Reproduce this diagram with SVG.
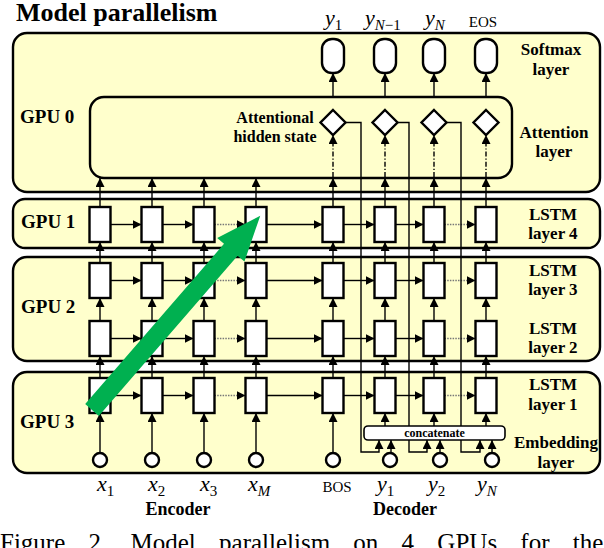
<svg xmlns="http://www.w3.org/2000/svg" width="604" height="548" viewBox="0 0 604 548" font-family="'Liberation Serif', 'DejaVu Serif', serif">
<defs>
<marker id="ah" viewBox="0 0 10 10" refX="10" refY="5" markerWidth="9" markerHeight="9" markerUnits="userSpaceOnUse" orient="auto"><path d="M0,0 L10,5 L0,10 z" fill="#000"/></marker>
<style>
.panel{fill:#ffffcc;stroke:#000;stroke-width:2.4}
.box{fill:#fff;stroke:#000;stroke-width:2.4}
.ln{stroke:#000;stroke-width:1.4;fill:none}
.ar{marker-end:url(#ah)}
.dot{stroke:#777;stroke-dasharray:1.5 1.2}
.dd{stroke-dasharray:5 2 1.2 2}
text{font-family:'Liberation Serif','DejaVu Serif',serif;fill:#000}
.b{font-weight:bold}
.m{font-style:italic}
.lab{font-size:17px;text-anchor:middle}
.gpu{font-size:19px}
</style>
</defs>
<rect width="604" height="548" fill="#fff"/>
<text class="b" x="16" y="21" font-size="26">Model parallelism</text>

<g id="gpu0"><rect class="panel" x="13" y="33" width="587" height="159" rx="14"/><text class="b gpu" x="20" y="123">GPU 0</text></g>
<g id="gpu1"><rect class="panel" x="13" y="199" width="587" height="49" rx="12"/><text class="b gpu" x="21" y="228">GPU 1</text></g>
<g id="gpu2"><rect class="panel" x="13" y="257" width="587" height="104" rx="14"/><text class="b gpu" x="21" y="313">GPU 2</text></g>
<g id="gpu3"><rect class="panel" x="13" y="372" width="587" height="101" rx="14"/><text class="b gpu" x="20" y="428">GPU 3</text></g>
<g id="attention"><rect x="90" y="97" width="422" height="81" rx="14" fill="none" stroke="#000" stroke-width="2.4"/></g>

<g id="connectors" class="ln">
<g id="row4">
<line class="ar" x1="110.5" y1="224.5" x2="141.5" y2="224.5"/><line class="ar" x1="162.5" y1="224.5" x2="193.5" y2="224.5"/><line class="ar dot" x1="214.5" y1="224.5" x2="245.5" y2="224.5"/><line class="ar" x1="266.5" y1="224.5" x2="322.5" y2="224.5"/><line class="ar" x1="343.5" y1="224.5" x2="374.5" y2="224.5"/><line class="ar" x1="395.5" y1="224.5" x2="423.5" y2="224.5"/><line class="ar dot" x1="444.5" y1="224.5" x2="475.5" y2="224.5"/>
</g>
<g id="row3">
<line class="ar" x1="110.5" y1="280.5" x2="141.5" y2="280.5"/><line class="ar" x1="162.5" y1="280.5" x2="193.5" y2="280.5"/><line class="ar dot" x1="214.5" y1="280.5" x2="245.5" y2="280.5"/><line class="ar" x1="266.5" y1="280.5" x2="322.5" y2="280.5"/><line class="ar" x1="343.5" y1="280.5" x2="374.5" y2="280.5"/><line class="ar" x1="395.5" y1="280.5" x2="423.5" y2="280.5"/><line class="ar dot" x1="444.5" y1="280.5" x2="475.5" y2="280.5"/>
</g>
<g id="row2">
<line class="ar" x1="110.5" y1="338.5" x2="141.5" y2="338.5"/><line class="ar" x1="162.5" y1="338.5" x2="193.5" y2="338.5"/><line class="ar dot" x1="214.5" y1="338.5" x2="245.5" y2="338.5"/><line class="ar" x1="266.5" y1="338.5" x2="322.5" y2="338.5"/><line class="ar" x1="343.5" y1="338.5" x2="374.5" y2="338.5"/><line class="ar" x1="395.5" y1="338.5" x2="423.5" y2="338.5"/><line class="ar dot" x1="444.5" y1="338.5" x2="475.5" y2="338.5"/>
</g>
<g id="row1">
<line class="ar" x1="110.5" y1="395.5" x2="141.5" y2="395.5"/><line class="ar" x1="162.5" y1="395.5" x2="193.5" y2="395.5"/><line class="ar dot" x1="214.5" y1="395.5" x2="245.5" y2="395.5"/><line class="ar" x1="266.5" y1="395.5" x2="322.5" y2="395.5"/><line class="ar" x1="343.5" y1="395.5" x2="374.5" y2="395.5"/><line class="ar" x1="395.5" y1="395.5" x2="423.5" y2="395.5"/><line class="ar dot" x1="444.5" y1="395.5" x2="475.5" y2="395.5"/>
</g>
<line class="ar" x1="100" y1="263" x2="100" y2="242"/><line class="ar" x1="100" y1="321" x2="100" y2="298"/><line class="ar" x1="100" y1="378" x2="100" y2="356"/>
<line class="ar" x1="152" y1="263" x2="152" y2="242"/><line class="ar" x1="152" y1="321" x2="152" y2="298"/><line class="ar" x1="152" y1="378" x2="152" y2="356"/>
<line class="ar" x1="204" y1="263" x2="204" y2="242"/><line class="ar" x1="204" y1="321" x2="204" y2="298"/><line class="ar" x1="204" y1="378" x2="204" y2="356"/>
<line class="ar" x1="256" y1="263" x2="256" y2="242"/><line class="ar" x1="256" y1="321" x2="256" y2="298"/><line class="ar" x1="256" y1="378" x2="256" y2="356"/>
<line class="ar" x1="333" y1="263" x2="333" y2="242"/><line class="ar" x1="333" y1="321" x2="333" y2="298"/><line class="ar" x1="333" y1="378" x2="333" y2="356"/>
<line class="ar" x1="385" y1="263" x2="385" y2="242"/><line class="ar" x1="385" y1="321" x2="385" y2="298"/><line class="ar" x1="385" y1="378" x2="385" y2="356"/>
<line class="ar" x1="434" y1="263" x2="434" y2="242"/><line class="ar" x1="434" y1="321" x2="434" y2="298"/><line class="ar" x1="434" y1="378" x2="434" y2="356"/>
<line class="ar" x1="486" y1="263" x2="486" y2="242"/><line class="ar" x1="486" y1="321" x2="486" y2="298"/><line class="ar" x1="486" y1="378" x2="486" y2="356"/>
<line class="ar" x1="100" y1="207" x2="100" y2="178"/><line class="ar" x1="152" y1="207" x2="152" y2="178"/><line class="ar" x1="204" y1="207" x2="204" y2="178"/><line class="ar" x1="256" y1="207" x2="256" y2="178"/>
<line class="ar" x1="333" y1="207" x2="333" y2="178"/><line class="ar" x1="385" y1="207" x2="385" y2="178"/><line class="ar" x1="434" y1="207" x2="434" y2="178"/><line class="ar" x1="486" y1="207" x2="486" y2="178"/>
<line class="ar dd" x1="333" y1="177" x2="333" y2="135"/><line class="ar dd" x1="385" y1="177" x2="385" y2="135"/><line class="ar dd" x1="434" y1="177" x2="434" y2="135"/><line class="ar dd" x1="486" y1="177" x2="486" y2="135"/>
<line class="ar" x1="333" y1="97" x2="333" y2="73"/><line class="ar" x1="385" y1="97" x2="385" y2="73"/><line class="ar" x1="434" y1="97" x2="434" y2="73"/><line class="ar" x1="486" y1="97" x2="486" y2="73"/>
<line class="ar" x1="100" y1="453" x2="100" y2="413"/><line class="ar" x1="152" y1="453" x2="152" y2="413"/><line class="ar" x1="204" y1="453" x2="204" y2="413"/><line class="ar" x1="256" y1="453" x2="256" y2="413"/><line class="ar" x1="333" y1="453" x2="333" y2="413"/>
<line class="ar" x1="391" y1="453" x2="391" y2="440"/><line class="ar" x1="440" y1="453" x2="440" y2="440"/><line class="ar" x1="492" y1="453" x2="492" y2="440"/>
<path class="ar" d="M345.5,122.5H361V452H379V440"/>
<path class="ar" d="M397.5,122.5H409V452H427V440"/>
<path class="ar" d="M446.5,122.5H461V452H480V440"/>
<line class="ar" x1="385" y1="426" x2="385" y2="413"/><line class="ar" x1="434" y1="426" x2="434" y2="413"/><line class="ar" x1="486" y1="426" x2="486" y2="413"/>
</g>

<g id="lstm">
<g id="l4"><rect class="box" x="89.5" y="207" width="21" height="35"/><rect class="box" x="141.5" y="207" width="21" height="35"/><rect class="box" x="193.5" y="207" width="21" height="35"/><rect class="box" x="245.5" y="207" width="21" height="35"/><rect class="box" x="322.5" y="207" width="21" height="35"/><rect class="box" x="374.5" y="207" width="21" height="35"/><rect class="box" x="423.5" y="207" width="21" height="35"/><rect class="box" x="475.5" y="207" width="21" height="35"/></g>
<g id="l3"><rect class="box" x="89.5" y="263" width="21" height="35"/><rect class="box" x="141.5" y="263" width="21" height="35"/><rect class="box" x="193.5" y="263" width="21" height="35"/><rect class="box" x="245.5" y="263" width="21" height="35"/><rect class="box" x="322.5" y="263" width="21" height="35"/><rect class="box" x="374.5" y="263" width="21" height="35"/><rect class="box" x="423.5" y="263" width="21" height="35"/><rect class="box" x="475.5" y="263" width="21" height="35"/></g>
<g id="l2"><rect class="box" x="89.5" y="321" width="21" height="35"/><rect class="box" x="141.5" y="321" width="21" height="35"/><rect class="box" x="193.5" y="321" width="21" height="35"/><rect class="box" x="245.5" y="321" width="21" height="35"/><rect class="box" x="322.5" y="321" width="21" height="35"/><rect class="box" x="374.5" y="321" width="21" height="35"/><rect class="box" x="423.5" y="321" width="21" height="35"/><rect class="box" x="475.5" y="321" width="21" height="35"/></g>
<g id="l1"><rect class="box" x="89.5" y="378" width="21" height="35"/><rect class="box" x="141.5" y="378" width="21" height="35"/><rect class="box" x="193.5" y="378" width="21" height="35"/><rect class="box" x="245.5" y="378" width="21" height="35"/><rect class="box" x="322.5" y="378" width="21" height="35"/><rect class="box" x="374.5" y="378" width="21" height="35"/><rect class="box" x="423.5" y="378" width="21" height="35"/><rect class="box" x="475.5" y="378" width="21" height="35"/></g>
</g>
<g id="diamonds"><polygon class="box" points="333,110 345.5,122.5 333,135 320.5,122.5"/><polygon class="box" points="385,110 397.5,122.5 385,135 372.5,122.5"/><polygon class="box" points="434,110 446.5,122.5 434,135 421.5,122.5"/><polygon class="box" points="486,110 498.5,122.5 486,135 473.5,122.5"/></g>
<g id="softmax"><rect class="box" x="322" y="39" width="22" height="34" rx="10"/><rect class="box" x="374" y="39" width="22" height="34" rx="10"/><rect class="box" x="423" y="39" width="22" height="34" rx="10"/><rect class="box" x="475" y="39" width="22" height="34" rx="10"/></g>
<g id="inputs"><circle class="box" cx="100" cy="460" r="7"/><circle class="box" cx="152" cy="460" r="7"/><circle class="box" cx="204" cy="460" r="7"/><circle class="box" cx="256" cy="460" r="7"/><circle class="box" cx="333" cy="460" r="7"/><circle class="box" cx="390" cy="460" r="7"/><circle class="box" cx="440" cy="460" r="7"/><circle class="box" cx="492" cy="460" r="7"/></g>
<g id="concatenate"><rect x="364" y="426" width="141" height="14" rx="4" fill="#fff" stroke="#000" stroke-width="1.6"/><text class="b" x="434.5" y="437" font-size="12" text-anchor="middle">concatenate</text></g>

<g id="labels">
<text class="b" x="275" y="123" font-size="16" text-anchor="middle">Attentional</text>
<text class="b" x="275" y="142" font-size="16" text-anchor="middle">hidden state</text>
<text class="b lab" x="551" y="55">Softmax</text><text class="b lab" x="551" y="75">layer</text>
<text class="b lab" x="554" y="138">Attention</text><text class="b lab" x="554" y="157">layer</text>
<text class="b lab" x="553" y="220">LSTM</text><text class="b lab" x="553" y="239">layer 4</text>
<text class="b lab" x="553" y="276">LSTM</text><text class="b lab" x="553" y="295">layer 3</text>
<text class="b lab" x="553" y="334">LSTM</text><text class="b lab" x="553" y="353">layer 2</text>
<text class="b lab" x="553" y="390">LSTM</text><text class="b lab" x="553" y="410">layer 1</text>
<text class="b lab" x="556" y="448">Embedding</text><text class="b lab" x="556" y="468">layer</text>
<text class="m" x="325" y="25" font-size="22">y<tspan dy="5" font-size="15" font-style="normal">1</tspan></text>
<text class="m" x="365" y="25" font-size="22">y<tspan dy="5" font-size="15">N</tspan><tspan font-size="15" font-style="normal">−1</tspan></text>
<text class="m" x="425" y="25" font-size="22">y<tspan dy="5" font-size="15">N</tspan></text>
<text x="483" y="27" font-size="15" text-anchor="middle">EOS</text>
<text class="m" x="97" y="491" font-size="22">x<tspan dy="5" font-size="15" font-style="normal">1</tspan></text>
<text class="m" x="148" y="491" font-size="22">x<tspan dy="5" font-size="15" font-style="normal">2</tspan></text>
<text class="m" x="200" y="491" font-size="22">x<tspan dy="5" font-size="15" font-style="normal">3</tspan></text>
<text class="m" x="248" y="491" font-size="22">x<tspan dy="5" font-size="15">M</tspan></text>
<text x="337" y="492" font-size="15" text-anchor="middle">BOS</text>
<text class="m" x="377" y="491" font-size="22">y<tspan dy="5" font-size="15" font-style="normal">1</tspan></text>
<text class="m" x="428" y="491" font-size="22">y<tspan dy="5" font-size="15" font-style="normal">2</tspan></text>
<text class="m" x="477" y="491" font-size="22">y<tspan dy="5" font-size="15">N</tspan></text>
<text class="b" x="178" y="515" font-size="18" text-anchor="middle">Encoder</text>
<text class="b" x="405" y="515" font-size="18" text-anchor="middle">Decoder</text>
</g>

<g id="arrow"><g transform="translate(92,410) rotate(-49.1)"><polygon points="0,-9 212,-9 212,-18 257,0 212,18 212,9 0,9" fill="#00b050"/></g></g>

<text x="0" y="551" font-size="25" word-spacing="17">Figure 2. Model parallelism on 4 GPUs for the</text>
</svg>
